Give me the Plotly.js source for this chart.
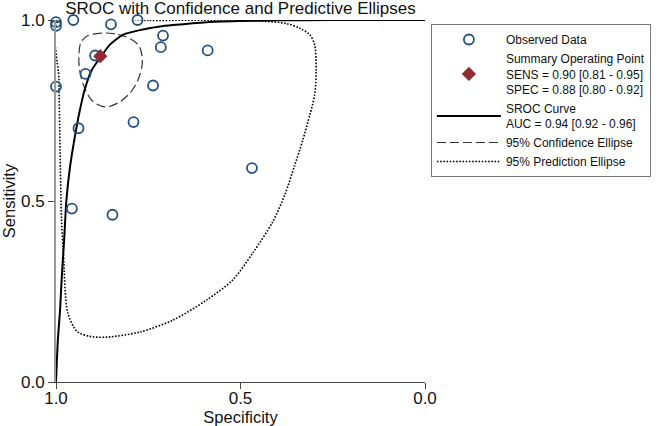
<!DOCTYPE html>
<html>
<head>
<meta charset="utf-8">
<script src="https://cdn.plot.ly/plotly-3.0.1.min.js"></script>
<style>html,body{margin:0;padding:0;background:#fff;}#chart{width:663px;height:426px;}</style>
</head>
<body>
<div id="chart"></div>
<script>
// Observed study data (specificity, sensitivity)
const obsSpec = [1.000, 1.000, 0.953, 0.851, 0.779, 0.710, 0.716, 0.589, 0.894, 0.920, 1.000, 0.737, 0.790, 0.939, 0.469, 0.957, 0.847];
const obsSens = [0.994, 0.984, 1.000, 0.988, 1.000, 0.957, 0.925, 0.916, 0.902, 0.851, 0.816, 0.819, 0.718, 0.701, 0.591, 0.479, 0.462];

// Summary operating point
const sumSpec = [0.88];
const sumSens = [0.90];

// SROC curve
const srocSpec = [1.000, 0.995, 0.989, 0.984, 0.978, 0.972, 0.962, 0.949, 0.938, 0.921, 0.903, 0.878, 0.854, 0.819, 0.773, 0.718, 0.683, 0.591, 0.502, 0.402, 0.258, 0.000];
const srocSens = [0.000, 0.116, 0.199, 0.296, 0.392, 0.500, 0.594, 0.677, 0.738, 0.812, 0.862, 0.899, 0.932, 0.959, 0.972, 0.982, 0.986, 0.994, 0.997, 0.999, 1.000, 1.000];

// 95% confidence ellipse
const ciSpec = [0.873, 0.832, 0.800, 0.775, 0.766, 0.778, 0.800, 0.832, 0.867, 0.900, 0.921, 0.935, 0.938, 0.932, 0.913, 0.873];
const ciSens = [0.964, 0.960, 0.949, 0.928, 0.884, 0.834, 0.798, 0.771, 0.760, 0.775, 0.809, 0.856, 0.901, 0.939, 0.957, 0.964];

// 95% prediction ellipse
const piSpec = [0.993, 0.746, 0.529, 0.440, 0.375, 0.339, 0.312, 0.299, 0.295, 0.299, 0.312, 0.331, 0.353, 0.380, 0.413, 0.467, 0.521, 0.591, 0.683, 0.773, 0.862, 0.908, 0.943, 0.968, 0.980, 0.985, 0.989, 0.992, 0.993];
const piSens = [0.999, 0.999, 0.999, 0.997, 0.990, 0.977, 0.959, 0.931, 0.856, 0.793, 0.738, 0.669, 0.599, 0.517, 0.442, 0.356, 0.282, 0.227, 0.171, 0.138, 0.124, 0.126, 0.140, 0.191, 0.356, 0.448, 0.641, 0.834, 0.999];

const tickVals = [1.0, 0.5, 0.0];
const tickText = ['1.0', '0.5', '0.0'];

const FONT = 'Liberation Sans, Arial, sans-serif';

const traces = [
  {x: obsSpec, y: obsSens, type: 'scatter', mode: 'markers', name: 'Observed Data',
   marker: {symbol: 'circle-open', size: 10, color: '#245281', line: {width: 1.8, color: '#245281'}}, cliponaxis: false},
  {x: sumSpec, y: sumSens, type: 'scatter', mode: 'markers',
   name: 'Summary Operating Point<br>SENS = 0.90 [0.81 - 0.95]<br>SPEC = 0.88 [0.80 - 0.92]',
   marker: {symbol: 'diamond', size: 11, color: '#8f2d32'}, cliponaxis: false},
  {x: srocSpec, y: srocSens, type: 'scatter', mode: 'lines', name: 'SROC Curve<br>AUC = 0.94 [0.92 - 0.96]',
   line: {color: '#000', width: 2, shape: 'spline', smoothing: 0.6}, cliponaxis: false},
  {x: ciSpec, y: ciSens, type: 'scatter', mode: 'lines', name: '95% Confidence Ellipse',
   line: {color: '#333', width: 1.2, dash: '9px,4px', shape: 'spline', smoothing: 1}, cliponaxis: false},
  {x: piSpec, y: piSens, type: 'scatter', mode: 'lines', name: '95% Prediction Ellipse',
   line: {color: '#000', width: 1.6, dash: '1.6px,1.6px', shape: 'spline', smoothing: 0.8}, cliponaxis: false}
];

// reorder so markers draw on top, keep legend order
const order = [4, 3, 2, 0, 1];
const data = order.map(i => Object.assign({legendrank: i + 1}, traces[i]));

const layout = {
  width: 663, height: 426,
  margin: {l: 56, r: 238, t: 20, b: 44, pad: 0},
  paper_bgcolor: '#fff', plot_bgcolor: '#fff',
  font: {family: FONT, size: 16, color: '#111'},
  title: {text: 'SROC with Confidence and Predictive Ellipses', x: 0.5, xref: 'paper', xanchor: 'center',
          y: 0.981, yref: 'container', yanchor: 'middle', font: {family: FONT, size: 17, color: '#111'}},
  xaxis: {range: [1, 0], tickvals: tickVals, ticktext: tickText, ticks: 'outside', ticklen: 6, tickcolor: '#444',
          showgrid: false, zeroline: false, showline: true, linecolor: '#444', linewidth: 1,
          ticklabelstandoff: -5,
          tickfont: {size: 17}, title: {text: 'Specificity', font: {size: 16.5}, standoff: 0}},
  yaxis: {range: [0, 1], tickvals: tickVals, ticktext: tickText, ticks: 'outside', ticklen: 6, tickcolor: '#444',
          showgrid: false, zeroline: false, showline: true, linecolor: '#999', linewidth: 2,
          tickfont: {size: 17}, title: {text: 'Sensitivity', font: {size: 16.5}, standoff: 4}},
  showlegend: true,
  legend: {x: 1.016, xanchor: 'left', y: 0.989, yanchor: 'top', bgcolor: '#fff', bordercolor: '#777', borderwidth: 1,
           font: {family: FONT, size: 12, color: '#111'}, itemwidth: 64, tracegroupgap: 0, traceorder: 'normal'}
};

Plotly.newPlot('chart', data, layout, {displayModeBar: false, staticPlot: true});
</script>
</body>
</html>
